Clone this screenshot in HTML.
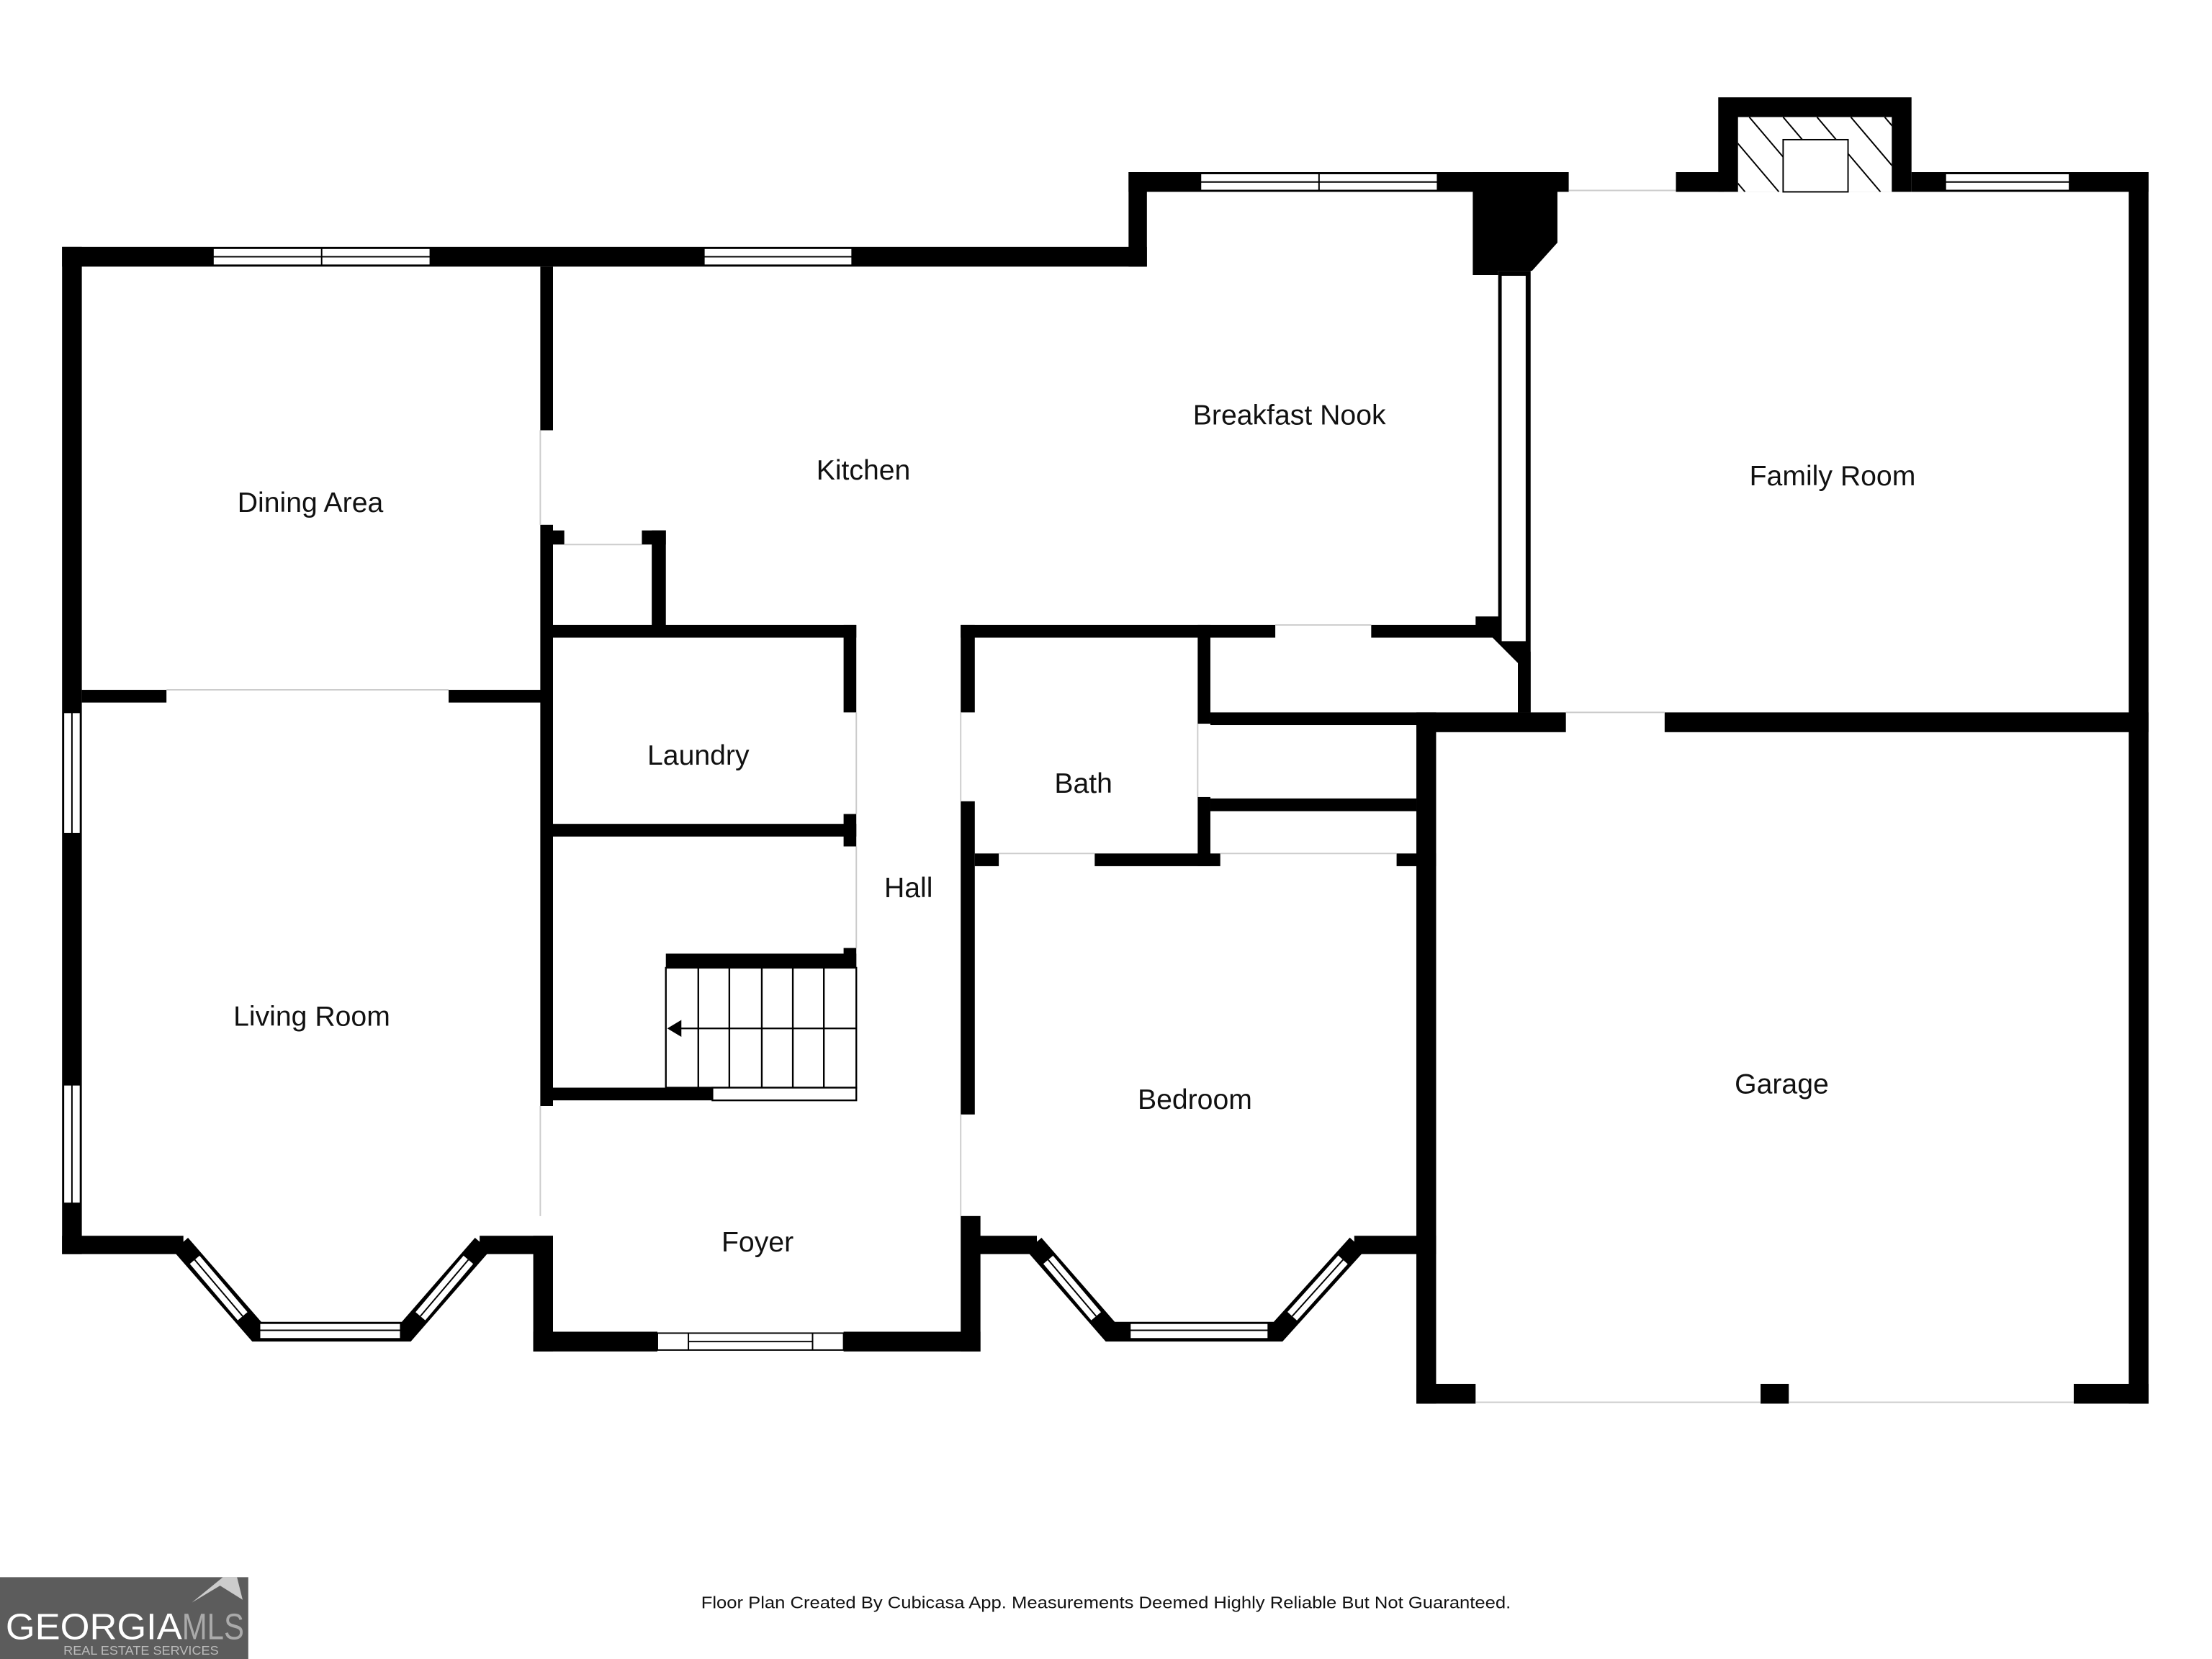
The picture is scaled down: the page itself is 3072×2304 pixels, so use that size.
<!DOCTYPE html>
<html><head><meta charset="utf-8"><style>
html,body{margin:0;padding:0;background:#fff;}
svg{display:block;}
text{font-family:"Liberation Sans",sans-serif;}
</style></head><body>
<svg width="3072" height="2304" viewBox="0 0 1568 1176" xmlns="http://www.w3.org/2000/svg">
<rect width="1568" height="1176" fill="#fff"/>
<defs>
<clipPath id="ch"><rect x="1232" y="83" width="109" height="53"/></clipPath>
</defs>
<g fill="#000">
<rect x="44" y="175" width="14" height="714"/>
<rect x="44" y="175" width="769" height="14"/>
<rect x="800" y="122" width="13" height="67"/>
<rect x="800" y="122" width="312" height="14"/>
<polygon points="1044,122 1104,122 1104,172 1086,192 1062,192 1062,195 1044,195"/>
<rect x="1188" y="122" width="34" height="14"/>
<rect x="1218" y="69" width="137" height="67"/>
<rect x="1355" y="122" width="168" height="14"/>
<rect x="1509" y="122" width="14" height="873"/>
<rect x="1004" y="981" width="42" height="14"/>
<rect x="1248" y="981" width="20" height="14"/>
<rect x="1470" y="981" width="53" height="14"/>
<rect x="1004" y="505" width="14" height="490"/>
<rect x="1004" y="505" width="106" height="14"/>
<rect x="1180" y="505" width="343" height="14"/>
<polygon points="1062,192 1085,192 1085,505 1076,505 1076,468 1062,452"/>
<rect x="681" y="443" width="223" height="9"/>
<rect x="972" y="443" width="90" height="9"/>
<polygon points="1046,437 1062,437 1085,462 1085,505 1076,505 1076,470 1058,452 1046,452"/>
<rect x="849" y="443" width="9" height="70"/>
<rect x="849" y="565" width="9" height="49"/>
<rect x="858" y="505" width="146" height="9"/>
<rect x="858" y="566" width="146" height="9"/>
<rect x="990" y="605" width="28" height="9"/>
<rect x="691" y="605" width="17" height="9"/>
<rect x="776" y="605" width="89" height="9"/>
<rect x="681" y="443" width="10" height="62"/>
<rect x="681" y="568" width="10" height="222"/>
<rect x="681" y="862" width="14" height="96"/>
<rect x="691" y="876" width="44" height="13"/>
<rect x="960" y="876" width="44" height="13"/>
<rect x="1004" y="876" width="14" height="13"/>
<rect x="44" y="876" width="86" height="13"/>
<rect x="340" y="876" width="52" height="13"/>
<rect x="378" y="876" width="14" height="82"/>
<rect x="378" y="944" width="88" height="14"/>
<rect x="598" y="944" width="97" height="14"/>
<rect x="383" y="189" width="9" height="116"/>
<rect x="383" y="372" width="9" height="412"/>
<rect x="58" y="489" width="60" height="9"/>
<rect x="318" y="489" width="66" height="9"/>
<rect x="392" y="376" width="8" height="10"/>
<rect x="455" y="376" width="17" height="10"/>
<rect x="462" y="376" width="10" height="74"/>
<rect x="392" y="443" width="215" height="9"/>
<rect x="598" y="443" width="9" height="62"/>
<rect x="598" y="577" width="9" height="23"/>
<rect x="392" y="584" width="215" height="9"/>
<rect x="472" y="676" width="135" height="10"/>
<rect x="598" y="672" width="9" height="14"/>
<rect x="392" y="771" width="113" height="9"/>
</g>
<g stroke="#000" stroke-width="14" fill="none" stroke-linejoin="miter">
<polyline points="128,882 182,944 288,944 342,882"/>
<polyline points="733,882 787,944 906,944 962,882"/>
</g>
<g>
<line x1="138" y1="893" x2="172" y2="933" stroke="#000" stroke-width="11"/>
<line x1="138" y1="893" x2="172" y2="933" stroke="#fff" stroke-width="9"/>
<line x1="138" y1="893" x2="172" y2="933" stroke="#000" stroke-width="1"/>
<line x1="298" y1="933" x2="332" y2="893" stroke="#000" stroke-width="11"/>
<line x1="298" y1="933" x2="332" y2="893" stroke="#fff" stroke-width="9"/>
<line x1="298" y1="933" x2="332" y2="893" stroke="#000" stroke-width="1"/>
<line x1="743" y1="893" x2="777" y2="933" stroke="#000" stroke-width="11"/>
<line x1="743" y1="893" x2="777" y2="933" stroke="#fff" stroke-width="9"/>
<line x1="743" y1="893" x2="777" y2="933" stroke="#000" stroke-width="1"/>
<line x1="916" y1="933" x2="952" y2="893" stroke="#000" stroke-width="11"/>
<line x1="916" y1="933" x2="952" y2="893" stroke="#fff" stroke-width="9"/>
<line x1="916" y1="933" x2="952" y2="893" stroke="#000" stroke-width="1"/>
</g>
<g stroke="#000" stroke-width="1" fill="#fff">
<rect x="151" y="176" width="154" height="12"/><line x1="151" y1="182" x2="305" y2="182"/><line x1="228" y1="176" x2="228" y2="188"/>
<rect x="499" y="176" width="105" height="12"/><line x1="499" y1="182" x2="604" y2="182"/>
<rect x="851" y="123" width="168" height="12"/><line x1="851" y1="129" x2="1019" y2="129"/><line x1="935" y1="123" x2="935" y2="135"/>
<rect x="1379" y="123" width="88" height="12"/><line x1="1379" y1="129" x2="1467" y2="129"/>
<rect x="45" y="505" width="12" height="86"/><line x1="51" y1="505" x2="51" y2="591"/>
<rect x="45" y="769" width="12" height="84"/><line x1="51" y1="769" x2="51" y2="853"/>
<rect x="184" y="938" width="100" height="11"/><line x1="184" y1="943" x2="284" y2="943"/>
<rect x="801" y="938" width="98" height="11"/><line x1="801" y1="943" x2="899" y2="943"/>
<rect x="466" y="945" width="132" height="12"/><line x1="488" y1="951" x2="576" y2="951"/><line x1="488" y1="945" x2="488" y2="957"/><line x1="576" y1="945" x2="576" y2="957"/>
<rect x="1064" y="195" width="18" height="260"/>
</g>
<!-- chimney interior -->
<rect x="1232" y="83" width="109" height="53" fill="#fff"/>
<g clip-path="url(#ch)" stroke="#000" stroke-width="1">
<line x1="1192" y1="83" x2="1237" y2="136"/>
<line x1="1216" y1="83" x2="1261" y2="136"/>
<line x1="1240" y1="83" x2="1285" y2="136"/>
<line x1="1264" y1="83" x2="1309" y2="136"/>
<line x1="1288" y1="83" x2="1333" y2="136"/>
<line x1="1312" y1="83" x2="1357" y2="136"/>
<line x1="1336" y1="83" x2="1381" y2="136"/>
</g>
<rect x="1264" y="99" width="46" height="37" fill="#fff" stroke="#000" stroke-width="1"/>
<g stroke="#ccc" stroke-width="1">
<line x1="1112" y1="135" x2="1188" y2="135"/>
<line x1="1046" y1="994" x2="1248" y2="994"/>
<line x1="1268" y1="994" x2="1470" y2="994"/>
<line x1="118" y1="489" x2="318" y2="489"/>
<line x1="383" y1="305" x2="383" y2="372"/>
<line x1="904" y1="443" x2="972" y2="443"/>
<line x1="1110" y1="505" x2="1180" y2="505"/>
<line x1="607" y1="505" x2="607" y2="577"/>
<line x1="607" y1="600" x2="607" y2="672"/>
<line x1="681" y1="505" x2="681" y2="568"/>
<line x1="681" y1="790" x2="681" y2="862"/>
<line x1="383" y1="784" x2="383" y2="862"/>
<line x1="708" y1="605" x2="776" y2="605"/>
<line x1="865" y1="605" x2="990" y2="605"/>
<line x1="849" y1="513" x2="849" y2="565"/>
<line x1="400" y1="386" x2="455" y2="386"/>
</g>
<g stroke="#000" stroke-width="1.2" fill="none">
<rect x="472" y="686" width="135" height="85"/>
<line x1="495" y1="686" x2="495" y2="771"/><line x1="517" y1="686" x2="517" y2="771"/>
<line x1="540" y1="686" x2="540" y2="771"/><line x1="562" y1="686" x2="562" y2="771"/>
<line x1="584" y1="686" x2="584" y2="771"/>
<line x1="480" y1="729" x2="607" y2="729"/>
<rect x="505" y="771" width="102" height="9" fill="#fff"/>
</g>
<polygon points="473,729 483,723 483,735" fill="#000"/>
<g font-size="20" fill="#111" text-anchor="middle">
<text x="220" y="363">Dining Area</text>
<text x="612" y="340">Kitchen</text>
<text x="914" y="301">Breakfast Nook</text>
<text x="1299" y="344">Family Room</text>
<text x="495" y="542">Laundry</text>
<text x="768" y="562">Bath</text>
<text x="644" y="636">Hall</text>
<text x="221" y="727">Living Room</text>
<text x="847" y="786">Bedroom</text>
<text x="1263" y="775">Garage</text>
<text x="537" y="887">Foyer</text>
</g>
<text x="497" y="1140" font-size="12" fill="#111" textLength="574" lengthAdjust="spacingAndGlyphs">Floor Plan Created By Cubicasa App. Measurements Deemed Highly Reliable But Not Guaranteed.</text>
<rect x="0" y="1118" width="176" height="58" fill="#5c5c5c"/>
<polygon points="136,1136 158,1118 168,1118 172,1134 156,1124" fill="#ccc"/>
<text x="4" y="1162" font-size="26" fill="#fff" textLength="125" lengthAdjust="spacingAndGlyphs">GEORGIA</text>
<text x="129" y="1162" font-size="26" fill="#aaa" textLength="44" lengthAdjust="spacingAndGlyphs">MLS</text>
<text x="45" y="1173" font-size="9" fill="#bbb" textLength="110" lengthAdjust="spacingAndGlyphs">REAL ESTATE SERVICES</text>
</svg>
</body></html>
